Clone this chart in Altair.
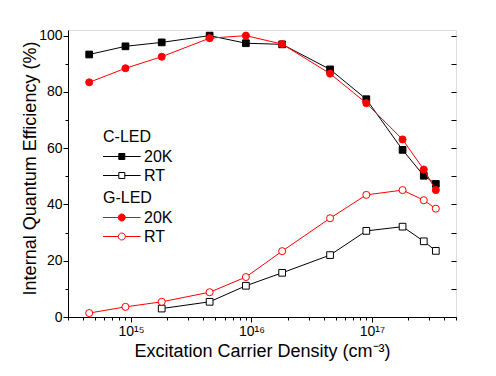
import altair as alt
import pandas as pd

# ---- data ----
density = [4.5e14, 9e14, 1.8e15, 4.5e15, 9e15, 1.8e16, 4.5e16, 9e16, 1.8e17, 2.7e17, 3.4e17]
cled_20k = [93.3, 96.2, 97.6, 100.0, 97.3, 96.9, 88.0, 77.4, 59.4, 50.2, 47.3]
gled_20k = [83.4, 88.4, 92.5, 99.1, 100.0, 97.0, 86.5, 76.0, 63.1, 52.4, 45.1]
gled_rt = [1.4, 3.6, 5.4, 8.8, 14.2, 23.4, 35.1, 43.4, 45.1, 41.5, 38.5]
cled_rt_density = density[2:]
cled_rt = [3.0, 5.4, 11.1, 15.7, 22.0, 30.6, 32.1, 26.9, 23.5]

x_ticks = [3e14, 4e14, 5e14, 6e14, 7e14, 8e14, 9e14,
           1e15, 2e15, 3e15, 4e15, 5e15, 6e15, 7e15, 8e15, 9e15,
           1e16, 2e16, 3e16, 4e16, 5e16, 6e16, 7e16, 8e16, 9e16,
           1e17, 2e17, 3e17, 4e17, 5e17]
x_major = [1e15, 1e16, 1e17]
x_major_labels = ["10\u00b9\u2075", "10\u00b9\u2076", "10\u00b9\u2077"]
y_ticks = [0, 10, 20, 30, 40, 50, 60, 70, 80, 90, 100]

rows = []
for xv, yv in zip(density, cled_20k):
    rows.append(dict(x=xv, y=yv, device="C-LED", temp="20K", series="C-LED 20K"))
for xv, yv in zip(cled_rt_density, cled_rt):
    rows.append(dict(x=xv, y=yv, device="C-LED", temp="RT", series="C-LED RT"))
for xv, yv in zip(density, gled_20k):
    rows.append(dict(x=xv, y=yv, device="G-LED", temp="20K", series="G-LED 20K"))
for xv, yv in zip(density, gled_rt):
    rows.append(dict(x=xv, y=yv, device="G-LED", temp="RT", series="G-LED RT"))
df = pd.DataFrame(rows)

series_dom = ["C-LED 20K", "C-LED RT", "G-LED 20K", "G-LED RT"]
line_col = alt.Scale(domain=series_dom, range=["#000000", "#000000", "#ff0000", "#ff0000"])

label_expr = " : ".join(
    f"datum.value == {v:.0f} ? '{l}'" for v, l in zip(x_major, x_major_labels)
) + " : ''"
major_test = "indexof([" + ",".join(f"{v:.0f}" for v in x_major) + "], datum.value) >= 0"

FONT = "Liberation Sans"

x_scale = alt.Scale(type="log", domain=[3e14, 5e17], nice=False)
x_enc = alt.X(
    "x:Q",
    scale=x_scale,
    axis=alt.Axis(
        title="Excitation Carrier Density (cm\u207b\u00b3)",
        values=x_ticks,
        labelExpr=label_expr,
        tickSize={"condition": {"test": major_test, "value": 5}, "value": 3},
        grid=False,
        labelFontSize=14,
        labelPadding=2,
        titleFontSize=18,
        titleFontWeight="normal",
        titlePadding=4,
        domainColor="#000000",
        tickColor="#000000",
    ),
)

y_scale = alt.Scale(domain=[0, 102], nice=False, zero=False)
y_left = alt.Y(
    "y:Q",
    scale=y_scale,
    axis=alt.Axis(
        title="Internal Quantum Efficiency (%)",
        values=y_ticks,
        labelExpr="datum.value % 20 == 0 ? datum.label : ''",
        tickSize={"condition": {"test": "datum.value % 20 == 0", "value": 5}, "value": 3},
        grid=False,
        labelFontSize=14,
        labelPadding=1,
        titleFontSize=18,
        titleFontWeight="normal",
        titleX=-29,
        titleY=138,
        domainColor="#000000",
        tickColor="#000000",
    ),
)
y_right = alt.Y(
    "y:Q",
    scale=y_scale,
    axis=alt.Axis(
        orient="right",
        title=None,
        values=y_ticks,
        labels=False,
        domain=False,
        offset=-5,
        tickSize=5,
        grid=False,
        tickColor="#000000",
    ),
)
y_noaxis = alt.Y("y:Q", scale=y_scale, axis=None)

# legend symbols: line segment with a centred marker (unit = 10 px at size 400),
# drawn so that the line starts at the legend's left edge
sq_path = "M-1.05,0H0.53M1.13,0H2.71M0.53,-0.3H1.13V0.3H0.53Z"
ci_path = "M-1.05,0H0.48M1.18,0H2.71M1.18,0A0.35,0.35 0 1,1 0.48,0A0.35,0.35 0 1,1 1.18,0Z"


def make_legend(title, path, color, ly):
    return alt.Legend(
        title=title,
        orient="none",
        legendX=35,
        legendY=ly,
        padding=0,
        symbolType=path,
        symbolSize=400,
        symbolStrokeWidth=1,
        symbolStrokeColor=color,
        symbolOpacity=1,
        labelOffset=20,
        labelFontSize=16,
        labelFont=FONT,
        titleFont=FONT,
        titleFontSize=16,
        titleFontWeight="normal",
        titlePadding=1,
        rowPadding=0,
    )


base = alt.Chart(df)
c_data = base.transform_filter("datum.device == 'C-LED'")
g_data = base.transform_filter("datum.device == 'G-LED'")

c_lines = c_data.mark_line(strokeWidth=1).encode(
    x=x_enc, y=y_left,
    color=alt.Color("series:N", scale=line_col, legend=None),
    detail="series:N",
)
c_points = c_data.mark_point(filled=True, shape="square", size=45, strokeWidth=1,
                             opacity=1, stroke="#000000").encode(
    x=x_enc, y=y_noaxis,
    fill=alt.Fill("temp:N", scale=alt.Scale(domain=["20K", "RT"], range=["#000000", "#ffffff"]),
                  legend=make_legend("C-LED", sq_path, "#000000", 99)),
)
g_lines = g_data.mark_line(strokeWidth=1).encode(
    x=x_enc, y=y_noaxis,
    color=alt.Color("series:N", scale=line_col, legend=None),
    detail="series:N",
)
g_points = g_data.mark_point(filled=True, shape="circle", size=50, strokeWidth=1,
                             opacity=1, stroke="#ff0000").encode(
    x=x_enc, y=y_right,
    fill=alt.Fill("temp:N", scale=alt.Scale(domain=["20K", "RT"], range=["#ff0000", "#ffffff"]),
                  legend=make_legend("G-LED", ci_path, "#ff0000", 160)),
)

chart = (
    alt.layer(c_lines, c_points, g_lines, g_points)
    .resolve_scale(fill="independent")
    .resolve_legend(fill="independent")
    .resolve_axis(y="independent")
    .properties(width=388, height=287, padding={"left": 12, "top": 20, "right": 5, "bottom": 5})
    .configure_view(stroke="#000000", strokeWidth=1)
    .configure_axis(labelFont=FONT, titleFont=FONT, labelColor="#000000", titleColor="#000000")
    .configure_legend(labelFont=FONT, titleFont=FONT)
    .configure(background="#ffffff")
)

chart.save("out.html", embed_options={"renderer": "svg", "actions": False})
